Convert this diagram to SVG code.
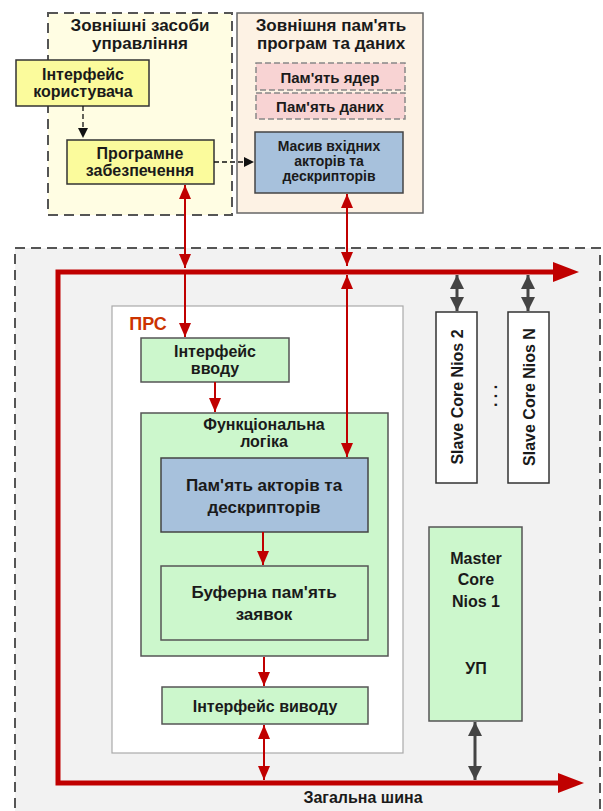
<svg xmlns="http://www.w3.org/2000/svg" width="603" height="811" viewBox="0 0 603 811">
<defs>
<style>
text{font-family:"Liberation Sans",Arial,sans-serif;font-weight:bold;fill:#1a1a1a;text-anchor:middle;dominant-baseline:central}
.t17{font-size:17px}
.t16{font-size:16px}
.t15{font-size:15px}
.t14{font-size:14px}
.yel{fill:#fbfb9c;stroke:#333;stroke-width:1.5}
.grn{fill:#ccf7cc;stroke:#555;stroke-width:1.5}
.blu{fill:#a7c1dc;stroke:#444;stroke-width:1.5}
.pnk{fill:#f8d3d3;stroke:#888;stroke-width:1.5;stroke-dasharray:6,3}
.wht{fill:#fff;stroke:#333;stroke-width:1.5}
.red{stroke:#c00000;stroke-width:2;fill:none}
.gry{stroke:#444;stroke-width:3;fill:none}
.dsh{stroke:#111;stroke-width:1.3;fill:none;stroke-dasharray:5,3}
</style>
<marker id="ar" markerUnits="userSpaceOnUse" markerWidth="14" markerHeight="12" viewBox="0 0 14 12" refX="14" refY="6" orient="auto-start-reverse"><path d="M0,0 L14,6 L0,12 z" fill="#c00000"/></marker>
<marker id="ag" markerUnits="userSpaceOnUse" markerWidth="14" markerHeight="14" viewBox="0 0 14 14" refX="14" refY="7" orient="auto-start-reverse"><path d="M0,0 L14,7 L0,14 z" fill="#444"/></marker>
<marker id="ak" markerUnits="userSpaceOnUse" markerWidth="10" markerHeight="10" viewBox="0 0 10 10" refX="10" refY="5" orient="auto"><path d="M0,0 L10,5 L0,10 z" fill="#111"/></marker>
</defs>
<rect width="603" height="811" fill="#fff"/>

<g id="ext-control">
<rect x="48" y="13" width="184" height="202" fill="#fffde3" stroke="#555" stroke-width="2" stroke-dasharray="10,6"/>
<text class="t17" x="140" y="25">Зовнішні засоби</text>
<text class="t17" x="140" y="43">управління</text>
</g>
<g id="ext-memory">
<rect x="237" y="13" width="186" height="200" fill="#fdf2e4" stroke="#666" stroke-width="1.5"/>
<text class="t17" x="331" y="25">Зовнішня пам'ять</text>
<text class="t17" x="331" y="43">програм та даних</text>
</g>
<g id="user-iface">
<rect class="yel" x="16" y="60" width="133" height="46"/>
<text class="t16" x="83" y="74">Інтерфейс</text>
<text class="t16" x="83" y="91">користувача</text>
</g>
<g id="software">
<rect class="yel" x="67" y="140" width="147" height="44"/>
<text class="t16" x="140" y="153">Програмне</text>
<text class="t16" x="140" y="170">забезпечення</text>
</g>
<g id="core-mem">
<rect class="pnk" x="256" y="63" width="149" height="27"/>
<text class="t15" x="330" y="77">Пам'ять ядер</text>
</g>
<g id="data-mem">
<rect class="pnk" x="256" y="93" width="149" height="26"/>
<text class="t15" x="330" y="106">Пам'ять даних</text>
</g>
<g id="input-array">
<rect class="blu" x="255" y="132" width="148" height="61"/>
<text class="t14" x="329" y="146">Масив вхідних</text>
<text class="t14" x="329" y="161">акторів та</text>
<text class="t14" x="329" y="176">дескрипторів</text>
</g>

<g id="system">
<rect x="15" y="248" width="585" height="575" fill="#f2f2f2" stroke="#555" stroke-width="2" stroke-dasharray="10,6"/>
</g>
<g id="prs">
<rect x="112" y="306" width="291" height="447" fill="#fff" stroke="#aaa" stroke-width="1.2"/>
<text x="148" y="324" style="font-size:18px;fill:#cc3300">ПРС</text>
</g>
<g id="in-iface">
<rect class="grn" x="141" y="338" width="148" height="44"/>
<text class="t16" x="215" y="351">Інтерфейс</text>
<text class="t16" x="215" y="368">вводу</text>
</g>
<g id="func-logic">
<rect class="grn" x="141" y="413" width="247" height="243"/>
<text class="t16" x="264" y="424">Функціональна</text>
<text class="t16" x="264" y="441">логіка</text>
</g>
<g id="actor-mem">
<rect class="blu" x="161" y="458" width="207" height="74"/>
<text class="t17" x="264" y="485">Пам'ять акторів та</text>
<text class="t17" x="264" y="507">дескрипторів</text>
</g>
<g id="buffer">
<rect class="grn" x="161" y="566" width="207" height="74"/>
<text class="t17" x="264" y="592">Буферна пам'ять</text>
<text class="t17" x="264" y="614">заявок</text>
</g>
<g id="out-iface">
<rect class="grn" x="162" y="687" width="206" height="37"/>
<text class="t16" x="265" y="706">Інтерфейс виводу</text>
</g>
<g id="slave2">
<rect class="wht" x="436" y="312" width="41" height="171"/>
<text class="t16" transform="translate(457,397) rotate(-90)" x="0" y="0">Slave Core Nios 2</text>
</g>
<g id="dots">
<text class="t16" transform="translate(493,396) rotate(-90)" x="0" y="-2">. . .</text>
</g>
<g id="slaveN">
<rect class="wht" x="508" y="312" width="41" height="171"/>
<text class="t16" transform="translate(529,397) rotate(-90)" x="0" y="0">Slave Core Nios N</text>
</g>
<g id="master">
<rect class="grn" x="429" y="527" width="93" height="194"/>
<text class="t16" x="476" y="558">Master</text>
<text class="t16" x="476" y="579">Core</text>
<text class="t16" x="476" y="601">Nios 1</text>
<text class="t16" x="476" y="668">УП</text>
</g>
<g id="bus-label">
<text class="t16" x="363" y="797">Загальна шина</text>
</g>

<g id="connectors">
<path d="M555 272 H58 V783 H560" stroke="#c00000" stroke-width="5" fill="none"/>
<polygon points="553,262 579,272 553,282" fill="#c00000"/>
<polygon points="558,773 584,783 558,793" fill="#c00000"/>
<path class="dsh" d="M83 106 V138" marker-end="url(#ak)"/>
<path class="dsh" d="M214 162 H254" marker-end="url(#ak)"/>
<path class="red" d="M185 185 V268" marker-start="url(#ar)" marker-end="url(#ar)"/>
<path class="red" d="M185 272 V337" marker-end="url(#ar)"/>
<path class="red" d="M347 194 V266" marker-start="url(#ar)" marker-end="url(#ar)"/>
<path class="red" d="M347 275 V457" marker-start="url(#ar)" marker-end="url(#ar)"/>
<path class="red" d="M215 382 V412" marker-end="url(#ar)"/>
<path class="red" d="M263 532 V565" marker-end="url(#ar)"/>
<path class="red" d="M264 657 V686" marker-end="url(#ar)"/>
<path class="red" d="M264 725 V780" marker-start="url(#ar)" marker-end="url(#ar)"/>
<path class="gry" d="M457 275 V311" marker-start="url(#ag)" marker-end="url(#ag)"/>
<path class="gry" d="M528 275 V311" marker-start="url(#ag)" marker-end="url(#ag)"/>
<path class="gry" d="M475 722 V780" marker-start="url(#ag)" marker-end="url(#ag)"/>
</g>
</svg>
